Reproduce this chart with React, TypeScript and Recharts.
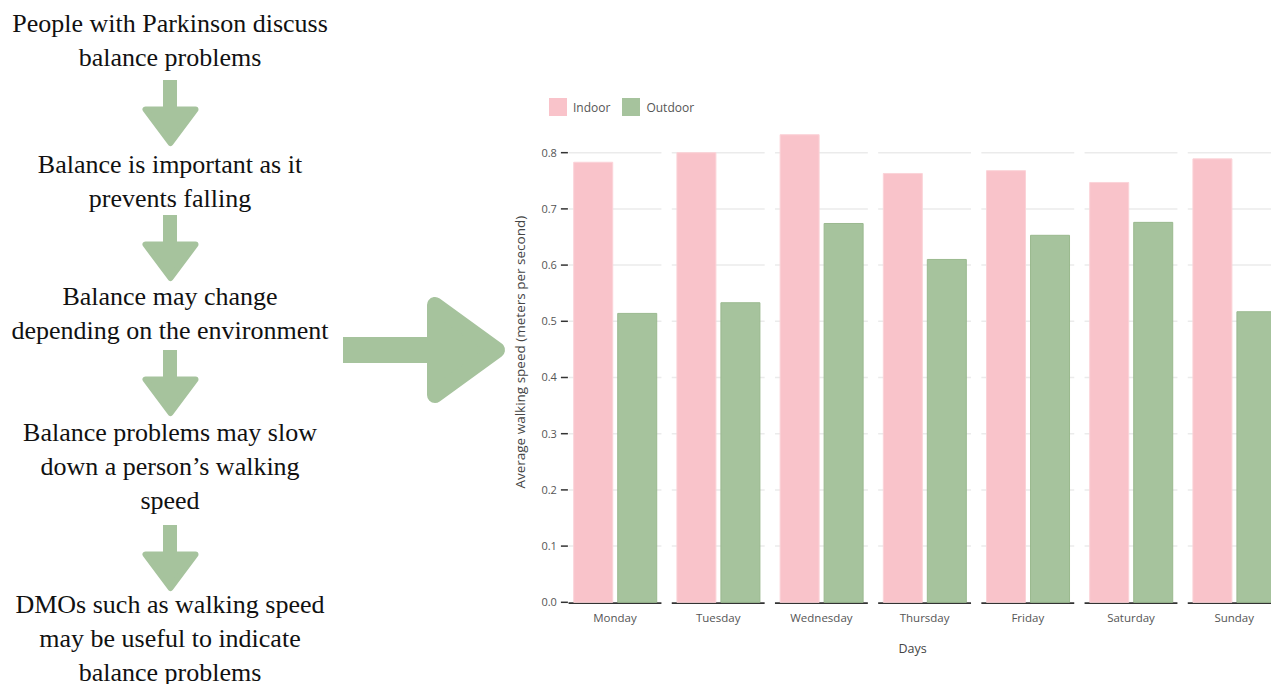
import React from "react";
import { BarChart, Bar, XAxis, YAxis, Legend, CartesianGrid } from "recharts";

const days = ["Monday", "Tuesday", "Wednesday", "Thursday", "Friday", "Saturday", "Sunday"];
const indoorSpeed = [0.783, 0.8, 0.832, 0.763, 0.768, 0.747, 0.789];
const outdoorSpeed = [0.514, 0.533, 0.674, 0.61, 0.653, 0.676, 0.517];
const yTicks = [0, 0.1, 0.2, 0.3, 0.4, 0.5, 0.6, 0.7, 0.8];

const flowSteps = [
  ["People with Parkinson discuss", "balance problems"],
  ["Balance is important as it", "prevents falling"],
  ["Balance may change", "depending on the environment"],
  ["Balance problems may slow", "down a person\u2019s walking", "speed"],
  ["DMOs such as walking speed", "may be useful to indicate", "balance problems"],
];

const PINK = "#f9c3ca";
const GREEN = "#a6c39d";
const FONT = "'Open Sans', sans-serif";

const chartData = days.map((day, i) => ({
  day,
  indoor: indoorSpeed[i],
  outdoor: outdoorSpeed[i],
}));

// positions of the flowchart pieces (layout only)
const stepTops = [7, 148, 280, 416, 588];
const arrowTops = [80, 215, 350, 525];

function DownArrow({ top }: { top: number }) {
  return (
    <svg
      width={60}
      height={70}
      style={{ position: "absolute", left: 140, top, overflow: "visible" }}
    >
      <rect x={23} y={0} width={14} height={30} fill={GREEN} />
      <polygon
        points="5.5,29.5 55.5,29.5 30.5,63"
        fill={GREEN}
        stroke={GREEN}
        strokeWidth={6}
        strokeLinejoin="round"
      />
    </svg>
  );
}

function BigArrow() {
  return (
    <svg
      width={170}
      height={120}
      style={{ position: "absolute", left: 340, top: 290, overflow: "visible" }}
    >
      <rect x={3} y={47} width={95} height={26} fill={GREEN} />
      <polygon
        points="95,15 95,105 157,60"
        fill={GREEN}
        stroke={GREEN}
        strokeWidth={16}
        strokeLinejoin="round"
      />
    </svg>
  );
}

// grid rows are broken into one segment per day, the base row is the dark axis line
function GridRow(props: any) {
  const { x1, x2, y1, y, height, index } = props;
  if (Math.abs(y1 - y) < 1) return <g key={"row-" + index} />;
  const isBase = Math.abs(y1 - (y + height)) < 1;
  const bw = (x2 - x1) / days.length;
  const yy = isBase ? y1 + 0.8 : y1;
  return (
    <g key={"row-" + index}>
      {days.map((d, k) => (
        <line
          key={d}
          x1={x1 + bw * (k + 0.05)}
          x2={x1 + bw * (k + 0.95)}
          y1={yy}
          y2={yy}
          stroke={isBase ? "#333" : "#ebebeb"}
          strokeWidth={isBase ? 1.6 : 1.5}
        />
      ))}
    </g>
  );
}

function YTick({ x, y, payload }: any) {
  return (
    <g>
      <text
        x={x - 6.5}
        y={y}
        dy="0.36em"
        textAnchor="end"
        fill="#555"
        fontSize={11}
        fontFamily={FONT}
      >
        {Number(payload.value).toFixed(1)}
      </text>
      <line x1={x - 2.5} x2={x + 4.5} y1={y} y2={y} stroke="#333" strokeWidth={1.5} />
    </g>
  );
}

function LegendContent() {
  const items = [
    { label: "Indoor", color: PINK },
    { label: "Outdoor", color: GREEN },
  ];
  return (
    <div style={{ display: "flex", height: 18, alignItems: "center", fontFamily: FONT }}>
      {items.map((it) => (
        <div key={it.label} style={{ display: "flex", alignItems: "center", marginRight: 12 }}>
          <div style={{ width: 18, height: 18, background: it.color, marginRight: 6 }} />
          <span style={{ fontSize: 12, color: "#555" }}>{it.label}</span>
        </div>
      ))}
    </div>
  );
}

export default function App() {
  return (
    <div
      style={{
        position: "fixed",
        left: 0,
        top: 0,
        width: 1271,
        height: 684,
        overflow: "hidden",
        background: "#fff",
      }}
    >
      {flowSteps.map((lines, i) => (
        <div
          key={i}
          style={{
            position: "absolute",
            left: 0,
            width: 340,
            top: stepTops[i],
            textAlign: "center",
            fontFamily: "'Liberation Serif', serif",
            fontSize: 26,
            lineHeight: "34px",
            color: "#111",
            whiteSpace: "nowrap",
          }}
        >
          {lines.map((l) => (
            <div key={l}>{l}</div>
          ))}
        </div>
      ))}
      {arrowTops.map((t) => (
        <DownArrow key={t} top={t} />
      ))}
      <BigArrow />

      <div style={{ position: "absolute", left: 0, top: 0 }}>
        <BarChart
          width={1291}
          height={684}
          data={chartData}
          margin={{ top: 84.1, right: 5.2, bottom: 29.7, left: 513.4 }}
          barCategoryGap="10%"
          barGap={5}
        >
          <Legend
            verticalAlign="top"
            align="left"
            content={<LegendContent />}
            wrapperStyle={{ left: 549, top: 98, height: 18 }}
          />
          <CartesianGrid vertical={false} horizontal={(p: any) => <GridRow {...p} key={"row-" + p.index} />} />
          <XAxis
            dataKey="day"
            axisLine={false}
            tickLine={false}
            tickMargin={6}
            height={52}
            tick={{ fill: "#555", fontSize: 11.5, fontFamily: FONT }}
            label={{
              value: "Days",
              position: "insideBottom",
              offset: 1,
              dx: -12,
              style: { fill: "#444", fontSize: 12.5, fontFamily: FONT },
            }}
          />
          <YAxis
            domain={[0, 0.89]}
            ticks={yTicks}
            width={50}
            axisLine={false}
            tickLine={false}
            tickSize={0}
            tickMargin={0}
            tick={<YTick />}
            label={{
              value: "Average walking speed (meters per second)",
              angle: -90,
              position: "insideLeft",
              offset: 6.6,
              style: { textAnchor: "middle", fill: "#444", fontSize: 13.5, fontFamily: FONT },
            }}
          />
          <Bar dataKey="indoor" name="Indoor" fill={PINK} stroke="#fbd3d8" strokeWidth={1} isAnimationActive={false} />
          <Bar dataKey="outdoor" name="Outdoor" fill={GREEN} stroke="#9ab98f" strokeWidth={1} isAnimationActive={false} />
        </BarChart>
      </div>
    </div>
  );
}
